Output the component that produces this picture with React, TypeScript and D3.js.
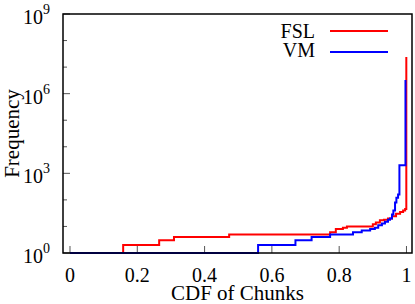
import React from 'react'
import * as d3 from 'd3'

// FSL (red) step points: [cdf, frequency]
const fslCdf = [0, 0.158, 0.265, 0.309, 0.473, 0.773, 0.79, 0.811, 0.823, 0.9, 0.909, 0.921, 0.933, 0.945, 0.957, 0.969, 0.981, 0.99, 0.996, 0.9995]
const fslFreq = [1, 2, 3, 4, 5, 6, 8, 9, 10, 12, 14, 17, 18, 20, 24, 30, 35, 40, 45, 2.4e7]

// VM (blue) step points
const vmCdf = [0, 0.559, 0.67, 0.718, 0.773, 0.841, 0.867, 0.892, 0.906, 0.916, 0.927, 0.936, 0.945, 0.951, 0.957, 0.961, 0.966, 0.97, 0.975, 0.979, 0.997]
const vmFreq = [1, 2, 3, 4, 5, 6, 7, 8, 9, 11, 13, 15, 18, 20, 28, 40, 80, 120, 160, 2000, 3.3e6]

const xTicks = [0, 0.2, 0.4, 0.6, 0.8, 1]
const xTickLabels = ['0', '0.2', '0.4', '0.6', '0.8', '1']
const yMajor = [0, 3, 6, 9]
const yMinor = [1, 2, 4, 5, 7, 8]

const series = [
  { name: 'FSL', color: '#ff0000', xs: fslCdf, ys: fslFreq },
  { name: 'VM', color: '#0000ff', xs: vmCdf, ys: vmFreq },
]

export default function App() {
  const width = 415
  const height = 304
  const left = 63, right = 412, top = 14, bottom = 253
  const font = '"Liberation Serif", "Times New Roman", serif'

  const x = d3.scaleLinear().domain([-0.0208, 1.0164]).range([left, right])
  const y = d3.scaleLog().domain([1, 1e9]).range([bottom, top])

  const line = d3.line<[number, number]>()
    .x(d => x(d[0]))
    .y(d => y(d[1]))
    .curve(d3.curveStepAfter)

  return (
    <svg width={width} height={height} style={{ position: 'absolute', left: 0, top: 0 }}
      fontFamily={font}>
      <rect x={0} y={0} width={width} height={height} fill="#fff" />

      {/* y ticks */}
      {yMinor.map(e => (
        <line key={'m' + e} x1={left} x2={left + 4} y1={y(Math.pow(10, e))} y2={y(Math.pow(10, e))}
          stroke="#555" strokeWidth={1} />
      ))}
      {yMajor.map(e => (
        <g key={'M' + e}>
          <line x1={left} x2={left + 7} y1={y(Math.pow(10, e))} y2={y(Math.pow(10, e))}
            stroke="#555" strokeWidth={1} />
          <text x={50} y={y(Math.pow(10, e)) + 10} textAnchor="end" fontSize={20}>
            10<tspan fontSize={14} dy={-10}>{e}</tspan>
          </text>
        </g>
      ))}

      {/* x ticks */}
      {xTicks.map((t, i) => (
        <g key={t}>
          <line x1={x(t)} x2={x(t)} y1={bottom} y2={bottom - 7} stroke="#555" strokeWidth={1} />
          <text x={x(t)} y={282} textAnchor="middle" fontSize={20}>{xTickLabels[i]}</text>
        </g>
      ))}

      {/* data */}
      {series.map(s => {
        const pts = s.xs.map((v, i) => [v, s.ys[i]] as [number, number])
        return <path key={s.name} d={line(pts) || ''} fill="none" stroke={s.color} strokeWidth={2} />
      })}

      {/* frame */}
      <rect x={left} y={top} width={right - left} height={bottom - top} fill="none" stroke="#000" strokeWidth={1.5} />

      {/* legend */}
      {series.map((s, i) => (
        <g key={'lg' + s.name}>
          <text x={315} y={38 + i * 19} textAnchor="end" fontSize={20}>{s.name}</text>
          <line x1={330} x2={388} y1={31 + i * 21} y2={31 + i * 21} stroke={s.color} strokeWidth={2} />
        </g>
      ))}

      {/* axis labels */}
      <text x={(left + right) / 2} y={299.5} textAnchor="middle" fontSize={21}>CDF of Chunks</text>
      <text transform={`translate(18.5,${(top + bottom) / 2}) rotate(-90)`} textAnchor="middle" fontSize={21}>Frequency</text>
    </svg>
  )
}
